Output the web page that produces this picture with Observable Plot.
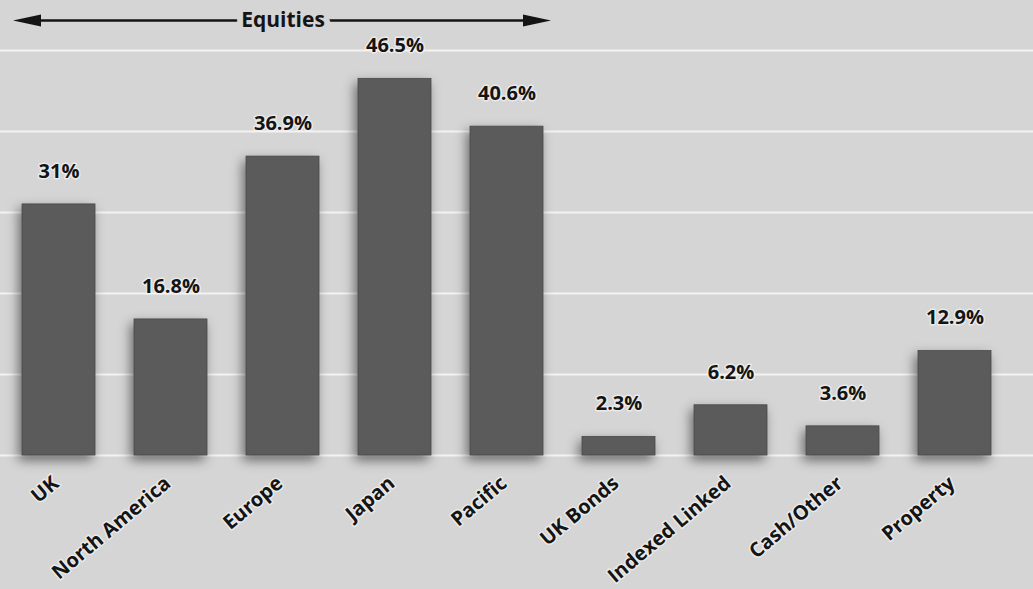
<!DOCTYPE html>
<html>
<head>
<meta charset="utf-8">
<script src="https://cdn.jsdelivr.net/npm/d3@7"></script>
<script src="https://cdn.jsdelivr.net/npm/@observablehq/plot@0.6"></script>
<style>
  html, body { margin: 0; padding: 0; background: #d5d5d5; }
  #chart svg { display: block; }
</style>
</head>
<body>
<div id="chart"></div>
<script>
// ---- data ----
const categories = ["UK", "North America", "Europe", "Japan", "Pacific", "UK Bonds", "Indexed Linked", "Cash/Other", "Property"];
const values = [31, 16.8, 36.9, 46.5, 40.6, 2.3, 6.2, 3.6, 12.9];
const valueLabels = ["31%", "16.8%", "36.9%", "46.5%", "40.6%", "2.3%", "6.2%", "3.6%", "12.9%"];
const gridTicks = [0, 10, 20, 30, 40, 50];
const groupLabel = "Equities";
const groupFrom = "UK";
const groupTo = "Pacific";
const groupLabelAt = "Europe";
const groupLevel = 53.7;

const rows = categories.map((c, i) => ({category: c, value: values[i], label: valueLabels[i]}));

const FONT = "'Open Sans', Lato, sans-serif";
const INK = "#141414";

// filled narrow arrowheads as custom symbols
const headLeft = {draw(ctx) { ctx.moveTo(-14, 0); ctx.lineTo(14, -6); ctx.lineTo(14, 6); ctx.closePath(); }};
const headRight = {draw(ctx) { ctx.moveTo(14, 0); ctx.lineTo(-14, -6); ctx.lineTo(-14, 6); ctx.closePath(); }};

const chart = Plot.plot({
  width: 1033,
  height: 589,
  marginTop: 50,
  marginBottom: 134,
  marginLeft: 2,
  marginRight: 23,
  style: {background: "#d5d5d5", fontFamily: FONT, overflow: "visible"},
  x: {domain: categories, paddingInner: 0.35, paddingOuter: 0.175, axis: null},
  y: {domain: [0, 50], axis: null},
  marks: [
    Plot.ruleY(gridTicks, {stroke: "#f3f3f3", strokeWidth: 2, insetLeft: -2, insetRight: -23}),
    Plot.barY(rows, {x: "category", y: "value", fill: "#5b5b5b", stroke: "#4a4a4a", strokeWidth: 0.8,
      imageFilter: "drop-shadow(-3px 5px 6px rgba(0,0,0,0.5))"}),
    Plot.text(rows, {x: "category", y: "value", text: "label", dy: -33, fontSize: 20, fontWeight: "bold",
      fill: INK, stroke: "#f4f4f4", strokeWidth: 3, strokeOpacity: 0.7}),
    Plot.text(rows, {x: "category", y: 0, text: "category", rotate: -40, textAnchor: "end", dx: -3, dy: 25,
      fontSize: 20, fontWeight: "bold", fill: INK, stroke: "#f4f4f4", strokeWidth: 3, strokeOpacity: 0.7}),
    // group annotation: double-headed arrow with label
    Plot.arrow([{a: groupLabelAt, b: groupFrom, y: groupLevel}], {x1: "a", x2: "b", y1: "y", y2: "y",
      stroke: INK, strokeWidth: 2.5, headLength: 0, insetEnd: -36}),
    Plot.arrow([{a: groupLabelAt, b: groupTo, y: groupLevel}], {x1: "a", x2: "b", y1: "y", y2: "y",
      stroke: INK, strokeWidth: 2.5, headLength: 0, insetEnd: -34}),
    Plot.dot([{x: groupFrom, y: groupLevel}], {x: "x", y: "y", symbol: headLeft, fill: INK, stroke: null, dx: -32}),
    Plot.dot([{x: groupTo, y: groupLevel}], {x: "x", y: "y", symbol: headRight, fill: INK, stroke: null, dx: 30}),
    Plot.text([{x: groupLabelAt, y: groupLevel, t: groupLabel}], {x: "x", y: "y", text: "t", fontSize: 21,
      fontWeight: "bold", fill: INK, stroke: "#d5d5d5", strokeWidth: 12})
  ]
});
document.getElementById("chart").appendChild(chart);
</script>
</body>
</html>
